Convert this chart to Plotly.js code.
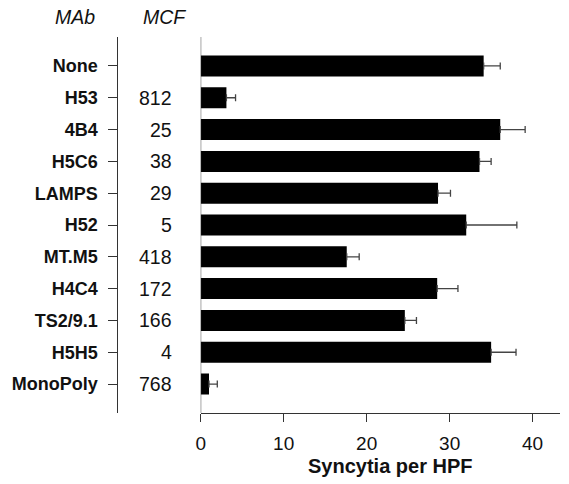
<!DOCTYPE html>
<html>
<head>
<meta charset="utf-8">
<script src="https://cdn.plot.ly/plotly-3.0.1.min.js"></script>
<style>html,body{margin:0;padding:0;background:#fff;}#chart{width:569px;height:484px;}</style>
</head>
<body>
<div id="chart"></div>
<script>
const mabs = ["None","H53","4B4","H5C6","LAMPS","H52","MT.M5","H4C4","TS2/9.1","H5H5","MonoPoly"];
const mcf = ["","812","25","38","29","5","418","172","166","4","768"];
const syncytia = [34.1,3.1,36.1,33.6,28.6,32.0,17.6,28.5,24.6,35.0,1.0];
const errPlus = [2.0,1.1,3.0,1.4,1.5,6.1,1.5,2.5,1.4,3.0,1.0];
const xTicks = [0,10,20,30,40];

const W = 560; // plot area width (l=0, r=9)
const px = v => v / W;
const font = "Liberation Sans, Arial, Helvetica, sans-serif";

const trace = {
  type: "bar",
  orientation: "h",
  x: syncytia,
  y: mabs,
  marker: {color: "#000000", line: {width: 0}},
  error_x: {type: "data", symmetric: false, array: errPlus, arrayminus: mabs.map(()=>0),
            color: "#444444", thickness: 1.3, width: 3.5},
  hoverinfo: "skip"
};

const annotations = mabs.map((m,i) => ({
  xref: "paper", yref: "y", x: px(174), y: i, xanchor: "right", yanchor: "middle",
  text: mcf[i], showarrow: false, font: {family: font, size: 19.5, color: "#111"}
}));
annotations.push({xref:"paper", yref:"paper", x: px(75), y: 1 + 20/376, xanchor:"center", yanchor:"middle",
  text:"<i>MAb</i>", showarrow:false, font:{family:font, size:19.5, color:"#111"}});
annotations.push({xref:"paper", yref:"paper", x: px(164), y: 1 + 20/376, xanchor:"center", yanchor:"middle",
  text:"<i>MCF</i>", showarrow:false, font:{family:font, size:19.5, color:"#111"}});
annotations.push({xref:"paper", yref:"paper", x: px(390.5), y: -53/376, xanchor:"center", yanchor:"middle",
  text:"<b>Syncytia per HPF</b>", showarrow:false, font:{family:font, size:20, color:"#111"}});

const layout = {
  width: 569, height: 484,
  margin: {l: 0, r: 9, t: 37, b: 71, pad: 0},
  paper_bgcolor: "#fff", plot_bgcolor: "rgba(0,0,0,0)",
  showlegend: false,
  bargap: 0.34,
  xaxis: {
    domain: [px(200.7), 1], range: [0, 43.3],
    tickvals: xTicks, ticktext: xTicks.map(String),
    showgrid: false, zeroline: false,
    showline: true, linecolor: "#333", linewidth: 1,
    ticks: "outside", ticklen: 8, tickcolor: "#333", tickwidth: 1,
    tickfont: {family: font, size: 19, color: "#111"},
    ticklabelstandoff: 5,
    fixedrange: true
  },
  yaxis: {
    type: "category", categoryorder: "array", categoryarray: mabs,
    range: [10.91, -0.91],
    anchor: "free", position: px(117.3),
    showgrid: false, zeroline: false,
    showline: true, linecolor: "#333", linewidth: 1,
    ticks: "outside", ticklen: 9, tickcolor: "#333", tickwidth: 1,
    tickfont: {family: font, size: 18, color: "#111", weight: "bold"},
    ticklabelstandoff: 7,
    automargin: false,
    fixedrange: true
  },
  shapes: [{type: "line", xref: "x", yref: "paper", x0: 0, x1: 0, y0: 0, y1: 1,
            line: {color: "#333", width: 1}}],
  annotations: annotations
};

Plotly.newPlot("chart", [trace], layout, {displayModeBar: false, staticPlot: true});
</script>
</body>
</html>
